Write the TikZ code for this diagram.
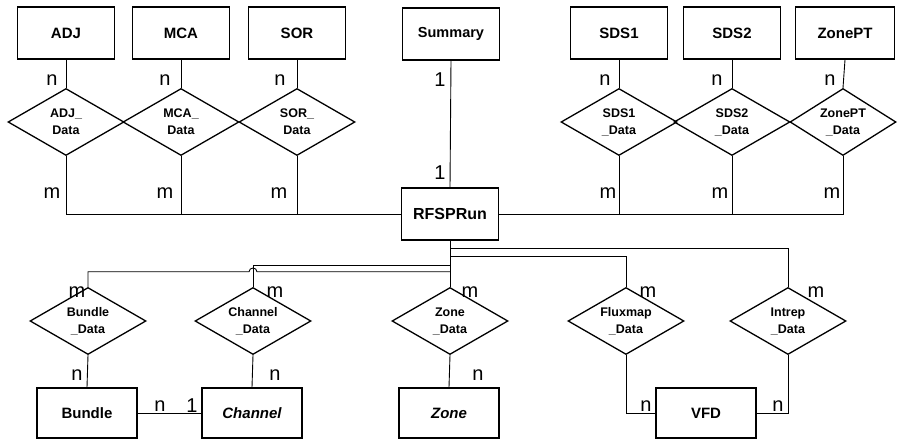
\documentclass[tikz,border=0pt]{standalone}
\usepackage{fontspec}
\setmainfont{Liberation Sans}
\usetikzlibrary{shapes.geometric}
\tikzset{
	entity/.style={draw, line width=1.6pt, minimum width=97pt, minimum height=52pt, inner sep=0pt, font=\fontsize{15}{15}\selectfont\bfseries},
	relation/.style={draw, diamond, aspect=1.75, line width=1.3pt, minimum width=116pt, minimum height=67pt, inner sep=0pt, align=center, font=\fontsize{12.5}{17}\selectfont\bfseries},
	card/.style={inner sep=0pt, font=\fontsize{20}{20}\selectfont}
}
\begin{document}
\begin{tikzpicture}
		[x=1pt, y=-1pt, line width=0.9pt]
		\useasboundingbox (0,0) rectangle (898,441);
		% upper entities
		\node[entity] (adj) at (66,33) {ADJ};
		\node[entity] (mca) at (181,33) {MCA};
		\node[entity] (sor) at (297,33) {SOR};
		\node[entity, font=\fontsize{14.5}{14.5}\selectfont\bfseries] (summary) at (451,34) {Summary};
		\node[entity] (sdsone) at (619,33) {SDS1};
		\node[entity] (sdstwo) at (732,33) {SDS2};
		\node[entity, minimum width=99pt] (zonept) at (845,33) {ZonePT};
		
		\node[relation] (adjdata) at (66,122) {ADJ\_\\Data};
		\node[relation] (mcadata) at (181,122) {MCA\_\\Data};
		\node[relation] (sordata) at (297,122) {SOR\_\\Data};
		\node[relation] (sdsonedata) at (619,122) {SDS1\\\_Data};
		\node[relation] (sdstwodata) at (732,122) {SDS2\\\_Data};
		\node[relation, minimum width=106pt] (zoneptdata) at (843,122) {ZonePT\\\_Data};
		
		\node[entity, font=\fontsize{16}{16}\selectfont\bfseries] (run) at (450,214) {RFSPRun};
		
		% lower relations and entities
		\node[relation] (bundledata) at (88,321) {Bundle\\\_Data};
		\node[relation] (channeldata) at (253,321) {Channel\\\_Data};
		\node[relation] (zonedata) at (450,321) {Zone\\\_Data};
		\node[relation] (fluxdata) at (626,321) {Fluxmap\\\_Data};
		\node[relation] (intrepdata) at (788,321) {Intrep\\\_Data};
		
		\node[entity, minimum width=100pt, minimum height=50pt] (bundle) at (87,413) {Bundle};
		\node[entity, minimum width=100pt, minimum height=50pt, font=\fontsize{15}{15}\selectfont\bfseries\itshape] (channel) at (252,413) {Channel};
		\node[entity, minimum width=100pt, minimum height=50pt, font=\fontsize{15}{15}\selectfont\bfseries\itshape] (zone) at (449,413) {Zone};
		\node[entity, minimum width=100pt, minimum height=50pt] (vfd) at (706,413) {VFD};
		
		% cardinalities
		\node[card] (adjn) at (52,80) {n};
		\node[card] (mcan) at (165,80) {n};
		\node[card] (sorn) at (280,80) {n};
		\node[card] (sdsonen) at (605,80) {n};
		\node[card] (sdstwon) at (717,80) {n};
		\node[card] (zoneptn) at (830,80) {n};
		\node[card] (adjm) at (52,193) {m};
		\node[card] (mcam) at (165,193) {m};
		\node[card] (sorm) at (279,193) {m};
		\node[card] (sdsonem) at (608,193) {m};
		\node[card] (sdstwom) at (720,193) {m};
		\node[card] (zoneptm) at (832,193) {m};
		\node[card] (summaryone) at (440,80) {1};
		\node[card] (runone) at (440,173) {1};
		
		\node[card] (bundlem) at (77,292) {m};
		\node[card] (channelm) at (275,292) {m};
		\node[card] (zonem) at (470,292) {m};
		\node[card] (fluxm) at (648,292) {m};
		\node[card] (intrepm) at (816,292) {m};
		\node[card] (bundlen) at (77,375) {n};
		\node[card] (channeln) at (275,375) {n};
		\node[card] (zonen) at (478,375) {n};
		\node[card] (bchn) at (160,406) {n};
		\node[card] (bchone) at (192,406) {1};
		\node[card] (fluxn) at (646,406) {n};
		\node[card] (intrepn) at (778,406) {n};
		
		% upper connectors
		\foreach \e in {adj, mca, sor, sdsone, sdstwo, zonept}
			\draw (\e.south) -- (\e data.north);
		\foreach \e in {adj, mca, sor}
			\draw (\e data.south) |- (run.west);
		\foreach \e in {sdsone, sdstwo, zonept}
			\draw (\e data.south) |- (run.east);
		\draw (summary.south) -- (run.north);
		
		% lower connectors
		\draw (run.south) -- (zonedata.north);
		\draw (run.south) ++(0,8) -| (intrepdata.north);
		\draw (run.south) ++(0,16) -| (fluxdata.north);
		\draw (run.south) ++(0,25) -| (channeldata.north);
		\draw (run.south) ++(0,31) -- ++(-193,0)
			.. controls +(0,-5) and +(0,-5) .. ++(-8,0) -| (bundledata.north);
		
		\draw (bundledata.south) -- (bundle.north);
		\draw (channeldata.south) -- (channel.north);
		\draw (zonedata.south) -- (zone.north);
		\draw (bundle.east) -- (channel.west);
		\draw (fluxdata.south) |- (vfd.west);
		\draw (intrepdata.south) |- (vfd.east);
		\end{tikzpicture}
\end{document}
